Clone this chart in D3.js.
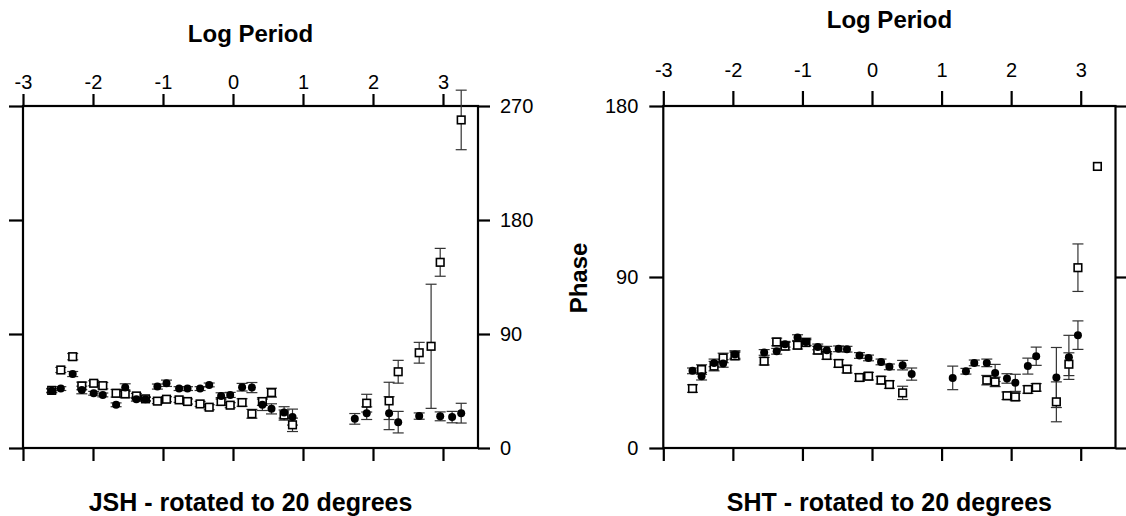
<!DOCTYPE html>
<html>
<head>
<meta charset="utf-8">
<script src="https://cdn.jsdelivr.net/npm/d3@7"></script>
<style>
  html, body { margin: 0; padding: 0; background: #fff; }
  svg { display: block; }
  .tick text { font-family: "Liberation Sans", Arial, sans-serif; font-size: 20px; fill: #000; }
  .tick line { stroke: #000; stroke-width: 2.2; }
  .title { font-family: "Liberation Sans", Arial, sans-serif; font-weight: bold; fill: #000; }
</style>
</head>
<body>
<div id="chart"></div>
<script>
// shared tick labels
const logPeriodTicks = [-3, -2, -1, 0, 1, 2, 3];
const jshPhaseTicks = [0, 90, 180, 270];
const shtPhaseTicks = [0, 90, 180];

// JSH: filled circles
const jshFilledLogPeriod = [-2.59, -2.46, -2.29, -2.16, -1.99, -1.86, -1.67, -1.54, -1.38, -1.25, -1.08, -0.95, -0.77, -0.65, -0.47, -0.34, -0.17, -0.04, 0.13, 0.27, 0.42, 0.55, 0.73, 0.85, 1.74, 1.91, 2.23, 2.36, 2.66, 2.96, 3.13, 3.26];
const jshFilledPhase = [45.1, 46.9, 58.4, 45.8, 43.2, 41.9, 34.1, 47.7, 38.5, 38.5, 48.5, 51.1, 46.9, 46.9, 46.9, 49.8, 41.1, 41.9, 48.0, 47.7, 34.1, 30.9, 28.1, 24.4, 23.0, 27.5, 27.5, 20.4, 25.2, 25.0, 24.4, 27.5];
const jshFilledErr = [1.5, 1.5, 2, 3, 1.5, 1.5, 1.5, 3, 1.5, 1.5, 2, 2.5, 1.5, 1.5, 1.5, 1.5, 2.5, 2, 3, 4, 4.5, 4, 4.5, 6.3, 4.2, 5, 13, 8.5, 2.5, 3.5, 4.5, 7.8];

// JSH: open squares
const jshOpenLogPeriod = [-2.59, -2.46, -2.29, -2.16, -1.99, -1.86, -1.67, -1.54, -1.38, -1.25, -1.08, -0.95, -0.77, -0.65, -0.47, -0.34, -0.17, -0.04, 0.13, 0.27, 0.42, 0.55, 0.73, 0.85, 1.91, 2.23, 2.36, 2.66, 2.83, 2.96, 3.26];
const jshOpenPhase = [45.5, 61.6, 72.1, 49.0, 51.1, 49.2, 43.2, 42.7, 41.1, 38.8, 37.0, 38.5, 38.0, 36.7, 34.8, 32.2, 36.7, 33.8, 35.9, 27.0, 36.7, 43.7, 26.0, 18.3, 35.4, 37.2, 60.2, 75.2, 80.3, 146.6, 259];
const jshOpenErr = [1.5, 2, 2.5, 3, 2, 2.5, 3, 3, 2, 1.5, 2, 2, 2, 2, 2, 2, 3, 2, 3, 3.5, 3, 3.5, 4, 5.3, 7, 14.7, 9, 8.2, 49, 11, 23.5];

// SHT: filled circles
const shtFilledLogPeriod = [-2.58, -2.45, -2.27, -2.14, -1.97, -1.55, -1.37, -1.25, -1.07, -0.95, -0.78, -0.65, -0.48, -0.36, -0.18, -0.05, 0.13, 0.25, 0.44, 0.57, 1.16, 1.35, 1.47, 1.65, 1.77, 1.94, 2.06, 2.24, 2.36, 2.65, 2.83, 2.96];
const shtFilledPhase = [40.6, 37.8, 44.8, 44.5, 49.2, 50.3, 50.9, 54.6, 58.1, 55.8, 53.2, 51.5, 52.2, 52.0, 48.7, 47.4, 45.3, 42.7, 43.6, 38.9, 36.9, 40.4, 44.8, 44.8, 39.5, 36.6, 34.3, 43.1, 48.3, 37.1, 47.7, 59.4];
const shtFilledErr = [1.5, 2, 2, 2, 2, 1.5, 1.5, 1.5, 1.5, 2, 1.5, 2, 1.5, 1.5, 1.5, 1.5, 1.5, 1.5, 2.5, 3.2, 6.2, 1.5, 1.5, 2, 4.5, 2.5, 4.5, 4.2, 4.8, 15.8, 11.6, 7.5];

// SHT: open squares
const shtOpenLogPeriod = [-2.58, -2.45, -2.27, -2.14, -1.97, -1.55, -1.37, -1.25, -1.07, -0.95, -0.78, -0.65, -0.48, -0.36, -0.18, -0.05, 0.13, 0.25, 0.44, 1.65, 1.77, 1.94, 2.06, 2.24, 2.36, 2.65, 2.83, 2.96, 3.24];
const shtOpenPhase = [31.3, 41.3, 43.1, 47.4, 48.5, 45.7, 55.8, 53.6, 54.1, 55.5, 51.5, 48.7, 44.5, 41.5, 37.1, 37.8, 35.7, 33.4, 29.0, 35.7, 34.8, 27.5, 26.9, 30.8, 31.9, 24.3, 44.1, 94.9, 148.2];
const shtOpenErr = [2, 2.5, 2.5, 2.5, 2, 2, 2, 2, 2, 1.5, 2, 2, 2, 2, 2, 2, 2, 2, 3.5, 2.5, 2.5, 2, 2, 2, 2, 10.5, 6, 12.5, 0];

const width = 1126, height = 516;

const svg = d3.select("#chart")
    .append("svg")
        .attr("width", width)
        .attr("height", height);

//plain hyphen for negatives, like the original plot
const plainFormat = d => String(d);

/** zips the parallel arrays of one series into point objects */
function toPoints(xs, ys, errs) {
    return xs.map((x, i) => ({ x: x, y: ys[i], err: errs[i] }));
}

/** draws one panel: frame, four axes, error bars and markers */
function drawPanel(cfg) {
    const x = d3.scaleLinear().domain([-3, 3.5]).range(cfg.xRange);
    const y = d3.scaleLinear().domain(cfg.yDomain).range([448, 106]);
    const g = svg.append("g");

    //top axis with labels
    g.append("g")
        .attr("transform", `translate(0, ${y(cfg.yDomain[1])})`)
        .call(d3.axisTop(x).tickValues(logPeriodTicks).tickSize(cfg.topTick).tickPadding(cfg.topPad).tickFormat(plainFormat))
        .call(a => a.select(".domain").remove());

    //bottom axis, ticks only
    g.append("g")
        .attr("transform", `translate(0, ${y(0)})`)
        .call(d3.axisBottom(x).tickValues(logPeriodTicks).tickSize(13).tickFormat(""))
        .call(a => a.select(".domain").remove());

    //left axis
    g.append("g")
        .attr("transform", `translate(${cfg.xRange[0]}, 0)`)
        .call(d3.axisLeft(y).tickValues(cfg.yTicks).tickSize(14).tickPadding(11).tickFormat(cfg.leftLabels ? plainFormat : ""))
        .call(a => a.select(".domain").remove());

    //right axis
    g.append("g")
        .attr("transform", `translate(${cfg.xRange[1]}, 0)`)
        .call(d3.axisRight(y).tickValues(cfg.yTicks).tickSize(12).tickPadding(10).tickFormat(cfg.rightLabels ? plainFormat : ""))
        .call(a => a.select(".domain").remove());

    //frame
    g.append("rect")
        .attr("x", cfg.xRange[0])
        .attr("y", y(cfg.yDomain[1]))
        .attr("width", cfg.xRange[1] - cfg.xRange[0])
        .attr("height", y(0) - y(cfg.yDomain[1]))
        .attr("fill", "none")
        .attr("stroke", "#000")
        .attr("stroke-width", 2.2);

    const series = [
        { pts: toPoints(cfg.openX, cfg.openY, cfg.openErr), kind: "open" },
        { pts: toPoints(cfg.filledX, cfg.filledY, cfg.filledErr), kind: "filled" }
    ];

    series.forEach(s => {
        const bars = g.append("g")
            .attr("stroke", "#333")
            .attr("stroke-width", 1.2);
        const withErr = s.pts.filter(p => p.err > 0);

        bars.selectAll("line.stem").data(withErr).join("line")
            .attr("class", "stem")
            .attr("x1", p => x(p.x)).attr("x2", p => x(p.x))
            .attr("y1", p => y(p.y + p.err)).attr("y2", p => y(p.y - p.err));

        ["top", "bot"].forEach(side => {
            bars.selectAll(`line.cap-${side}`).data(withErr).join("line")
                .attr("class", `cap-${side}`)
                .attr("x1", p => x(p.x) - 5.5).attr("x2", p => x(p.x) + 5.5)
                .attr("y1", p => y(side === "top" ? p.y + p.err : p.y - p.err))
                .attr("y2", p => y(side === "top" ? p.y + p.err : p.y - p.err));
        });
    });

    //markers drawn after all bars
    g.append("g").selectAll("rect").data(series[0].pts).join("rect")
        .attr("x", p => x(p.x) - 3.8)
        .attr("y", p => y(p.y) - 3.8)
        .attr("width", 7.6)
        .attr("height", 7.6)
        .attr("fill", "#fff")
        .attr("stroke", "#000")
        .attr("stroke-width", 1.6);

    g.append("g").selectAll("circle").data(series[1].pts).join("circle")
        .attr("cx", p => x(p.x))
        .attr("cy", p => y(p.y))
        .attr("r", 4)
        .attr("fill", "#000");

    //titles
    const cx = (cfg.xRange[0] + cfg.xRange[1]) / 2;
    g.append("text").attr("class", "title")
        .attr("x", cx).attr("y", cfg.topTitleY)
        .attr("text-anchor", "middle")
        .attr("font-size", 24)
        .text("Log Period");

    g.append("text").attr("class", "title")
        .attr("x", cx).attr("y", 511)
        .attr("text-anchor", "middle")
        .attr("font-size", 25)
        .text(cfg.caption);

    if (cfg.yTitle) {
        g.append("text").attr("class", "title")
            .attr("transform", `translate(587, ${y(cfg.yDomain[1] / 2) + 1}) rotate(-90)`)
            .attr("text-anchor", "middle")
            .attr("font-size", 24)
            .text(cfg.yTitle);
    }
}

drawPanel({
    xRange: [23, 478],
    yDomain: [0, 270],
    yTicks: jshPhaseTicks,
    leftLabels: false,
    rightLabels: true,
    topTick: 12,
    topPad: 5,
    topTitleY: 41.5,
    caption: "JSH - rotated to 20 degrees",
    filledX: jshFilledLogPeriod, filledY: jshFilledPhase, filledErr: jshFilledErr,
    openX: jshOpenLogPeriod, openY: jshOpenPhase, openErr: jshOpenErr
});

drawPanel({
    xRange: [663.3, 1115.5],
    yDomain: [0, 180],
    yTicks: shtPhaseTicks,
    leftLabels: true,
    rightLabels: false,
    topTick: 15,
    topPad: 14,
    topTitleY: 27.5,
    caption: "SHT - rotated to 20 degrees",
    yTitle: "Phase",
    filledX: shtFilledLogPeriod, filledY: shtFilledPhase, filledErr: shtFilledErr,
    openX: shtOpenLogPeriod, openY: shtOpenPhase, openErr: shtOpenErr
});
</script>
</body>
</html>
